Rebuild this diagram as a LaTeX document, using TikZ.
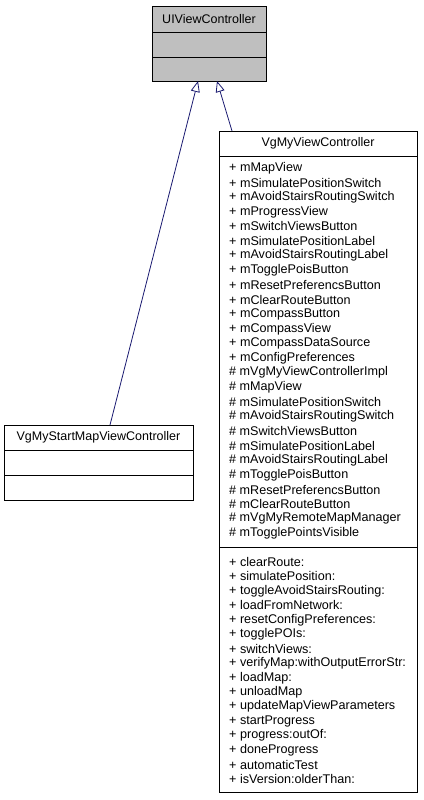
\documentclass[tikz,border=0pt]{standalone}
\usepackage{fontspec}
\setmainfont{Liberation Sans}
\usetikzlibrary{arrows.meta}
\definecolor{edgec}{HTML}{191970}
\definecolor{boxgray}{HTML}{BFBFBF}
\begin{document}
\begin{tikzpicture}[x=1pt,y=-1pt,
  cls/.style={draw=black, line width=0.9pt, inner sep=0pt, outer sep=0pt, anchor=north west},
  txt/.style={inner sep=0pt, anchor=west, font=\fontsize{12.6}{14}\selectfont},
  ttl/.style={inner sep=0pt, font=\fontsize{12.5}{14}\selectfont},
  sep/.style={draw=black, line width=0.9pt},
  inh/.style={draw=edgec, line width=0.8pt, -{Triangle[open, length=11pt, width=9pt, fill=white]}}]
\useasboundingbox (0,0) rectangle (423,800);
% UIViewController
\node[cls, fill=boxgray, minimum width=114pt, minimum height=75pt] (ui) at (152,6) {};
\draw[sep] (152,32) -- (266,32);
\draw[sep] (152,57) -- (266,57);
\node[ttl] (uit) at (209,19) {UIViewController};
% VgMyStartMapViewController
\node[cls, fill=white, minimum width=189pt, minimum height=75pt] (st) at (4,425) {};
\draw[sep] (4,450) -- (193,450);
\draw[sep] (4,475) -- (193,475);
\node[ttl] (stt) at (98.5,437.5) {VgMyStartMapViewController};
% VgMyViewController
\node[cls, fill=white, minimum width=198pt, minimum height=661pt] (vg) at (219,131) {};
\draw[sep] (219,156) -- (417,156);
\draw[sep] (219,547) -- (417,547);
\node[ttl] (vgt) at (318,143.5) {VgMyViewController};
\foreach \t [count=\i from 0] in {+ mMapView, + mSimulatePositionSwitch, + mAvoidStairsRoutingSwitch, + mProgressView, + mSwitchViewsButton, + mSimulatePositionLabel, + mAvoidStairsRoutingLabel, + mTogglePoisButton, + mResetPreferencsButton, + mClearRouteButton, + mCompassButton, + mCompassView, + mCompassDataSource, + mConfigPreferences, \# mVgMyViewControllerImpl, \# mMapView, \# mSimulatePositionSwitch, \# mAvoidStairsRoutingSwitch, \# mSwitchViewsButton, \# mSimulatePositionLabel, \# mAvoidStairsRoutingLabel, \# mTogglePoisButton, \# mResetPreferencsButton, \# mClearRouteButton, \# mVgMyRemoteMapManager, \# mTogglePointsVisible}
  \node[txt] (a\i) at (229,168+\i*14.62) {\t};
\foreach \t [count=\i from 0] in {+ clearRoute:, + simulatePosition:, + toggleAvoidStairsRouting:, + loadFromNetwork:, + resetConfigPreferences:, + togglePOIs:, + switchViews:, + verifyMap:withOutputErrorStr:, + loadMap:, + unloadMap, + updateMapViewParameters, + startProgress, + progress:outOf:, + doneProgress, + automaticTest, + isVersion:olderThan:}
  \node[txt] (m\i) at (229,562+\i*14.47) {\t};
% inheritance
\draw[inh] ([xshift=11.5pt]st.north) -- ([xshift=-11pt]ui.south);
\draw[inh] ([xshift=13pt]vg.north west) -- ([xshift=8pt]ui.south);
\end{tikzpicture}
\end{document}
